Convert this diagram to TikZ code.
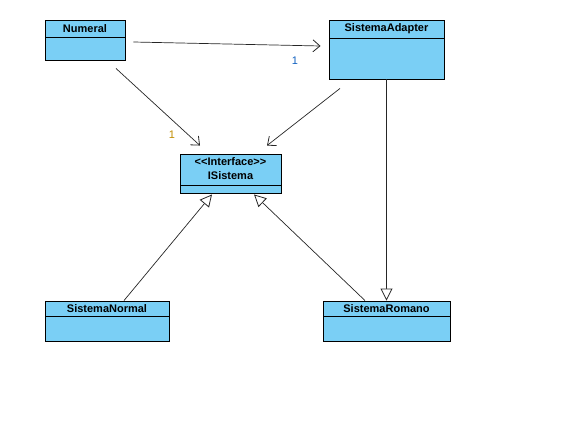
\documentclass[tikz,border=0pt]{standalone}
\usepackage{fontspec}
\setmainfont{Liberation Sans}
\usetikzlibrary{arrows.meta,calc}
\definecolor{classfill}{HTML}{7ACFF5}
\definecolor{lblblue}{HTML}{1060C0}
\definecolor{lblorange}{HTML}{C08C00}
\tikzset{
  classbox/.style={draw=black, fill=classfill, line width=0.9pt, inner sep=0pt, rectangle},
  classtitle/.style={font=\bfseries\fontsize{11}{12}\selectfont, inner sep=0pt, anchor=center},
  assoc/.style={draw=black!85, line width=0.7pt, -{Straight Barb[length=7pt,width=12pt,line width=0.8pt]}},
  inherit/.style={draw=black!85, line width=0.7pt, -{Triangle[open,length=12pt,width=12pt,line width=0.8pt,fill=white]}},
  mult/.style={font=\fontsize{11}{12}\selectfont, inner sep=0pt}
}
\begin{document}
\begin{tikzpicture}[x=1pt,y=-1pt]
\useasboundingbox (0,0) rectangle (568,433);
% classes
\node[classbox, minimum width=80pt, minimum height=40pt] (numeral) at (85,40) {};
\draw[line width=0.9pt] (45,37) -- (125,37);
\node[classtitle] (numeralT) at (85,28.5) {Numeral};

\node[classbox, minimum width=115pt, minimum height=59pt] (adapter) at (386.5,49.5) {};
\draw[line width=0.9pt] (329,38) -- (444,38);
\node[classtitle] (adapterT) at (386.5,29) {SistemaAdapter};

\node[classbox, minimum width=101pt, minimum height=39pt] (isistema) at (230.5,173.5) {};
\draw[line width=0.9pt] (180,185) -- (281,185);
\node[classtitle] (isistemaT1) at (230.5,162) {<{}<Interface>{}>};
\node[classtitle] (isistemaT2) at (230.5,176) {ISistema};

\node[classbox, minimum width=124pt, minimum height=40pt] (normal) at (107,321) {};
\draw[line width=0.9pt] (45,316) -- (169,316);
\node[classtitle] (normalT) at (107,308.5) {SistemaNormal};

\node[classbox, minimum width=127pt, minimum height=40pt] (romano) at (386.5,321) {};
\draw[line width=0.9pt] (323,316) -- (450,316);
\node[classtitle] (romanoT) at (386.5,308.5) {SistemaRomano};

% connectors
\draw[assoc] ($(numeral.east)+(8,2)$) -- ($(adapter.west)+(-8,-3.5)$);
\draw[assoc] ($(numeral.south)+(31,8)$) -- ($(isistema.north)+(-30.5,-8)$);
\draw[assoc] ($(adapter.south)+(-46.5,9)$) -- ($(isistema.north)+(36.5,-8)$);
\draw[inherit] ($(normal.north)+(17,0)$) -- ($(isistema.south)+(-18.5,1)$);
\draw[inherit] ($(romano.north)+(-21.5,0)$) -- ($(isistema.south)+(23.5,1)$);
\draw[inherit] (adapter.south) -- (romano.north);

% multiplicities
\node[mult, text=lblblue] (m1) at (295,61) {1};
\node[mult, text=lblorange] (m2) at (172,135) {1};
\end{tikzpicture}
\end{document}
